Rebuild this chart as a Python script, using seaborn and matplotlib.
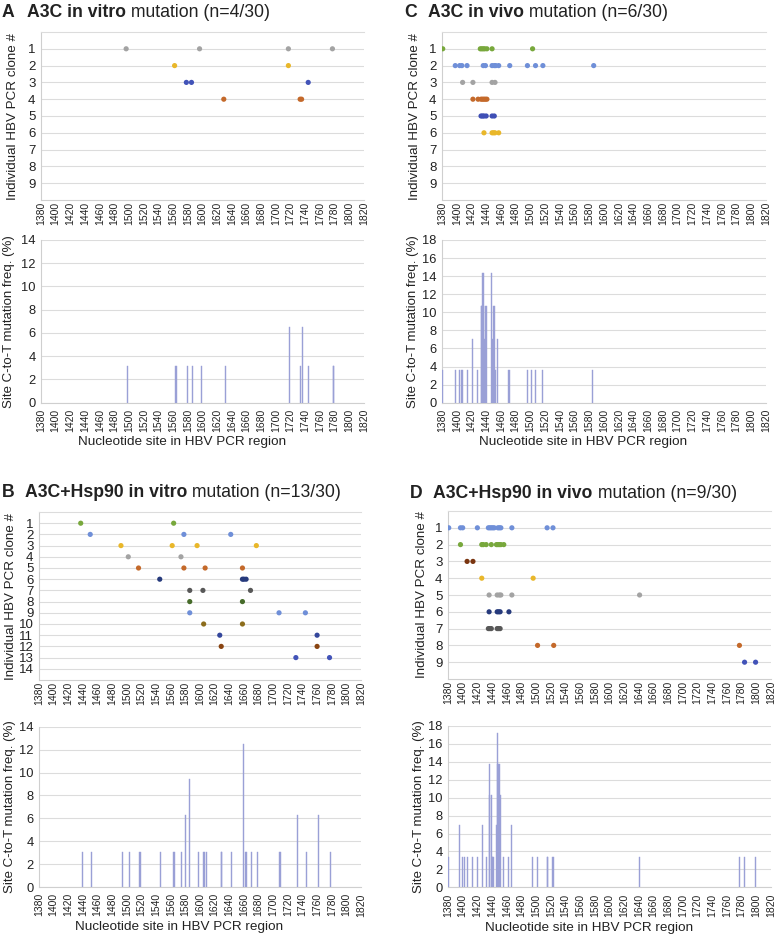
import numpy as np
import pandas as pd
import matplotlib
matplotlib.use('Agg')
import matplotlib.pyplot as plt
import seaborn as sns

sns.set_style('white')
plt.rcParams['font.family'] = ['Liberation Sans', 'DejaVu Sans']

# ---------------- data ----------------
x_ticks = list(range(1380, 1821, 20))

# A: A3C in vitro
a_site = [1496, 1596, 1717, 1777, 1562, 1717, 1578, 1585, 1744, 1629, 1733, 1735]
a_clone = [1, 1, 1, 1, 2, 2, 3, 3, 3, 4, 4, 4]
a_colors = ['#a3a3a3', '#e9b72a', '#4253b8', '#c4692a']
a_bar_site = [1498, 1563, 1564, 1580, 1587, 1598, 1631, 1718, 1733, 1736, 1745, 1778, 1779]
a_bar_pct = [3.2, 3.2, 3.2, 3.2, 3.2, 3.2, 3.2, 6.5, 3.2, 6.5, 3.2, 3.2, 3.2]

# C: A3C in vivo
c_site = [1381, 1432, 1434, 1436, 1438, 1441, 1448, 1503,
          1398, 1404, 1407, 1414, 1436, 1439, 1448, 1451, 1453, 1457, 1472, 1496, 1507, 1517, 1586,
          1408, 1422, 1448, 1452,
          1422, 1429, 1433, 1435, 1437, 1439, 1441,
          1433, 1435, 1437, 1440, 1448, 1451,
          1437, 1448, 1450, 1452, 1457]
c_clone = [1] * 8 + [2] * 15 + [3] * 4 + [4] * 7 + [5] * 6 + [6] * 5
c_colors = ['#78a83c', '#6f8fd8', '#a3a3a3', '#c4692a', '#3f4fb5', '#e9b72a']
c_bar_site = [1381, 1398, 1404, 1406, 1408, 1414, 1421, 1428, 1433, 1434, 1435, 1436, 1437,
              1438, 1439, 1440, 1447, 1448, 1450, 1451, 1452, 1456, 1471, 1496, 1502, 1507,
              1516, 1585]
c_bar_pct = [3.6, 3.6, 3.6, 3.6, 3.6, 3.6, 7.1, 3.6, 10.7, 10.7, 14.3, 14.3, 10.7,
             7.1, 10.7, 10.7, 14.3, 7.1, 10.7, 10.7, 3.6, 7.1, 3.6, 3.6, 3.6, 3.6,
             3.6, 3.6]

# B: A3C+Hsp90 in vitro
b_site = [1437, 1564,
          1450, 1578, 1642,
          1492, 1562, 1596, 1677,
          1502, 1574,
          1516, 1578, 1607, 1658,
          1545, 1658, 1660, 1663,
          1586, 1604, 1669,
          1586, 1658,
          1586, 1708, 1744,
          1605, 1658,
          1627, 1760,
          1629, 1760,
          1731, 1777]
b_clone = [1, 1, 2, 2, 2, 3, 3, 3, 3, 4, 4, 5, 5, 5, 5, 6, 6, 6, 6, 7, 7, 7,
           8, 8, 9, 9, 9, 10, 10, 11, 11, 12, 12, 13, 13]
b_colors = ['#78a83c', '#6f8fd8', '#e9b72a', '#a3a3a3', '#c4692a', '#263a7c', '#585858',
            '#466b2a', '#6f8fd8', '#8c6d1c', '#34479c', '#8a4512', '#4253b8']
b_bar_site = [1439, 1452, 1494, 1504, 1518, 1546, 1564, 1565, 1575, 1580, 1586, 1598,
              1605, 1606, 1609, 1629, 1630, 1643, 1659, 1662, 1663, 1671, 1679, 1709,
              1710, 1733, 1745, 1762, 1778]
b_bar_pct = [3.1, 3.1, 3.1, 3.1, 3.1, 3.1, 3.1, 3.1, 3.1, 6.3, 9.4, 3.1,
             3.1, 3.1, 3.1, 3.1, 3.1, 3.1, 12.5, 3.1, 3.1, 3.1, 3.1, 3.1,
             3.1, 6.3, 3.1, 6.3, 3.1]

# D: A3C+Hsp90 in vivo
d_site = [1381, 1397, 1400, 1420, 1435, 1437, 1439, 1441, 1443, 1448, 1450, 1452, 1467, 1515, 1523,
          1397, 1426, 1428, 1432, 1439, 1446, 1448, 1450, 1452, 1456,
          1406, 1414,
          1426, 1496,
          1436, 1447, 1450, 1452, 1467, 1641,
          1436, 1447, 1449, 1451, 1463,
          1435, 1437, 1439, 1447, 1449, 1451,
          1502, 1524, 1777,
          1784, 1799]
d_clone = [1] * 15 + [2] * 10 + [3] * 2 + [4] * 2 + [5] * 6 + [6] * 5 + [7] * 6 + [8] * 3 + [9] * 2
d_colors = ['#6f8fd8', '#78a83c', '#7a3510', '#e9b72a', '#a3a3a3', '#263a7c', '#585858',
            '#c4692a', '#4253b8']
d_bar_site = [1381, 1396, 1400, 1402, 1407, 1414, 1420, 1427, 1433, 1436, 1437, 1439, 1440,
              1441, 1442, 1446, 1447, 1448, 1449, 1450, 1451, 1456, 1463, 1467, 1495, 1502,
              1515, 1516, 1523, 1524, 1641, 1777, 1784, 1799]
d_bar_pct = [3.4, 6.9, 3.4, 3.4, 3.4, 3.4, 3.4, 6.9, 3.4, 13.8, 10.3, 10.3, 3.4,
             3.4, 3.4, 6.9, 17.2, 13.8, 13.8, 13.8, 10.3, 3.4, 3.4, 6.9, 3.4, 3.4,
             3.4, 3.4, 3.4, 3.4, 3.4, 3.4, 3.4, 3.4]

GRID = '#dcdcdc'
AXC = '#cfcfcf'
BAR = '#9aa0d6'
TXT = '#222222'

W, H = 777, 935
fig = plt.figure(figsize=(W / 100, H / 100), dpi=100)


def add_ax(l, t, r, b):
    return fig.add_axes([l / W, 1 - b / H, (r - l) / W, (b - t) / H])


def scatter_panel(ax, sites, clones, colors, nrows, lab_x):
    df = pd.DataFrame({'site': sites, 'clone': clones})
    pal = {i + 1: c for i, c in enumerate(colors)}
    sns.scatterplot(data=df, x='site', y='clone', hue='clone', palette=pal, s=14,
                    linewidth=0, legend=False, ax=ax, zorder=3)
    ax.set_xlim(1380, 1820)
    ax.set_ylim(nrows + 1, 0)
    ax.set_xticks(x_ticks)
    ax.set_yticks(range(1, nrows + 1))
    ax.grid(axis='y', color=GRID, lw=0.8)
    ax.grid(axis='x', visible=False)
    ax.spines['right'].set_visible(False)
    ax.spines['top'].set_color(GRID)
    ax.spines['left'].set_color(AXC)
    ax.spines['bottom'].set_color(AXC)
    for s in ax.spines.values():
        s.set_linewidth(0.8)
    ax.tick_params(axis='x', labelrotation=90, labelsize=7.5, length=0, pad=1.5, labelcolor=TXT)
    ax.tick_params(axis='y', labelsize=9.5, length=0, pad=4, labelcolor=TXT)
    ax.set_xlabel('')
    ax.set_ylabel('Individual HBV PCR clone #', fontsize=9.6, color=TXT)
    ax.yaxis.label.set_va('center')
    ax.yaxis.set_label_coords(lab_x, 0.5)


def bar_panel(ax, sites, pct, ymax, lab_x, xlab_y):
    ax.bar(sites, pct, width=1.4, color=BAR, edgecolor=BAR, linewidth=0.3, zorder=3)
    ax.set_xlim(1380, 1820)
    ax.set_ylim(0, ymax)
    ax.set_xticks(x_ticks)
    ax.set_yticks(range(0, ymax + 1, 2))
    ax.grid(axis='y', color=GRID, lw=0.8)
    ax.grid(axis='x', visible=False)
    ax.spines['right'].set_visible(False)
    ax.spines['top'].set_visible(False)
    ax.spines['left'].set_color(AXC)
    ax.spines['bottom'].set_color(AXC)
    for s in ax.spines.values():
        s.set_linewidth(0.8)
    ax.tick_params(axis='x', labelrotation=90, labelsize=7.5, length=3, width=0.8,
                   color=AXC, pad=1.5, labelcolor=TXT)
    ax.tick_params(axis='y', labelsize=9.3, length=0, pad=4, labelcolor=TXT)
    ax.set_xlabel('Nucleotide site in HBV PCR region', fontsize=9.7, color=TXT)
    ax.xaxis.label.set_va('center')
    ax.xaxis.set_label_coords(0.436, xlab_y)
    ax.set_ylabel('Site C-to-T mutation freq. (%)', fontsize=9.5, color=TXT)
    ax.yaxis.label.set_va('center')
    ax.yaxis.set_label_coords(lab_x, 0.5)


# panel A
ax = add_ax(41, 32, 364, 200)
scatter_panel(ax, a_site, a_clone, a_colors, 9, -0.087)
ax = add_ax(41, 240, 364, 402.7)
bar_panel(ax, a_bar_site, a_bar_pct, 14, -0.099, -0.242)

# panel C
ax = add_ax(442, 32, 766, 200)
scatter_panel(ax, c_site, c_clone, c_colors, 9, -0.083)
ax = add_ax(442, 240, 766, 402.7)
bar_panel(ax, c_bar_site, c_bar_pct, 18, -0.09, -0.242)

# panel B
ax = add_ax(39, 512, 361, 680)
scatter_panel(ax, b_site, b_clone, b_colors, 14, -0.088)
ax = add_ax(39, 726.7, 361, 887)
bar_panel(ax, b_bar_site, b_bar_pct, 14, -0.09, -0.251)

# panel D
ax = add_ax(448, 511, 771, 679)
scatter_panel(ax, d_site, d_clone, d_colors, 9, -0.081)
ax = add_ax(448, 726, 771, 887.3)
bar_panel(ax, d_bar_site, d_bar_pct, 18, -0.09, -0.251)

# titles: letter, bold part, normal part
titles = [
    ('A', 'A3C in vitro', ' mutation (n=4/30)', 1.7, 26.7, 16.7),
    ('C', 'A3C in vivo', ' mutation (n=6/30)', 404, 427.7, 16.7),
    ('B', 'A3C+Hsp90 in vitro', ' mutation (n=13/30)', 1.7, 25, 497.3),
    ('D', 'A3C+Hsp90 in vivo', ' mutation (n=9/30)', 410, 433.3, 498),
]
fig.canvas.draw()
rend = fig.canvas.get_renderer()
for letter, bold, normal, xl, xt, yb in titles:
    fig.text(xl / W, 1 - yb / H, letter, fontsize=12.7, fontweight='bold', va='baseline', color=TXT)
    t = fig.text(xt / W, 1 - yb / H, bold, fontsize=12.7, fontweight='bold', va='baseline', color=TXT)
    x1 = t.get_window_extent(rend).x1
    fig.text(x1 / W, 1 - yb / H, normal, fontsize=12.7, va='baseline', color=TXT)

fig.savefig('out.png', dpi=100)
